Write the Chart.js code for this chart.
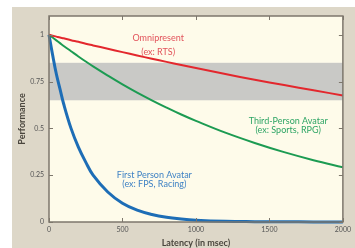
<!DOCTYPE html>
<html><head><meta charset="utf-8">
<script src="https://cdn.jsdelivr.net/npm/chart.js@4/dist/chart.umd.min.js"></script>
<style>html,body{margin:0;padding:0;background:#fff;}#wrap{width:355px;height:248px;}</style>
</head><body><div id="wrap"><canvas id="c" width="355" height="248"></canvas></div>
<script>
const latency = [0,25,50,75,100,150,200,250,300,400,500,600,700,800,900,1000,1200,1400,1600,1800,2000];
const omnipresent = [1,0.995,0.99,0.985,0.981,0.971,0.962,0.952,0.943,0.925,0.907,0.889,0.872,0.855,0.838,0.822,0.79,0.76,0.731,0.703,0.676];
const thirdPerson = [1,0.985,0.97,0.955,0.94,0.912,0.884,0.857,0.831,0.782,0.735,0.691,0.65,0.611,0.574,0.54,0.477,0.422,0.373,0.33,0.292];
const firstPerson = [1,0.89,0.79,0.71,0.63,0.5,0.4,0.32,0.25,0.16,0.1,0.063,0.04,0.025,0.016,0.01,0.004,0.002,0.001,0.0005,0];
const xTicks = [0,500,1000,1500,2000];
const xTickLabels = ['0','500','1000','1500','2000'];
const yTicks = [0,0.25,0.5,0.75,1];
const yTickLabels = ['0','0.25','0.5','0.75','1'];
const band = [0.65,0.85];
const seriesLabels = [
  {lines:['Omnipresent','(ex: RTS)'], x:743, y:[0.982,0.908], color:'#e2535b'},
  {lines:['Third-Person Avatar','(ex: Sports, RPG)'], x:1628, y:[0.541,0.49], color:'#2ea565'},
  {lines:['First Person Avatar','(ex: FPS, Racing)'], x:717, y:[0.251,0.201], color:'#3f82c4'}
];
const pts = arr => latency.map((x,i)=>({x:x,y:arr[i]}));

const decor = {
  id:'decor',
  beforeDraw(chart){
    const {ctx, chartArea:a} = chart;
    ctx.save();
    ctx.fillStyle='#fff'; ctx.fillRect(0,0,355,248);
    ctx.fillStyle='#ddd7c8'; ctx.fillRect(12,7,343,241);
    ctx.fillStyle='#fefbea'; ctx.fillRect(a.left,a.top,a.right-a.left,a.bottom-a.top);
    const y=chart.scales.y;
    const y1=y.getPixelForValue(band[1]), y0=y.getPixelForValue(band[0]);
    ctx.fillStyle='#c9c9c6'; ctx.fillRect(a.left,y1,a.right-a.left,y0-y1);
    ctx.restore();
  },
  afterDatasetsDraw(chart){
    const {ctx, chartArea:a} = chart;
    const xs=chart.scales.x, ys=chart.scales.y;
    ctx.save();
    ctx.font='9px Lato';
    ctx.textAlign='center'; ctx.textBaseline='middle';
    seriesLabels.forEach(l=>{
      ctx.fillStyle=l.color;
      l.lines.forEach((t,i)=>ctx.fillText(t, xs.getPixelForValue(l.x), ys.getPixelForValue(l.y[i])));
    });
    ctx.strokeStyle='#7d776c'; ctx.lineWidth=1.5;
    ctx.strokeRect(a.left,a.top,a.right-a.left,a.bottom-a.top);
    ctx.lineWidth=1;
    xTicks.forEach(v=>{const p=Math.round(xs.getPixelForValue(v))+0.5;
      ctx.beginPath();ctx.moveTo(p,a.bottom);ctx.lineTo(p,a.bottom-4);ctx.moveTo(p,a.top);ctx.lineTo(p,a.top+4);ctx.stroke();});
    yTicks.forEach(v=>{const p=Math.round(ys.getPixelForValue(v))+0.5;
      ctx.beginPath();ctx.moveTo(a.left,p);ctx.lineTo(a.left+4,p);ctx.moveTo(a.right,p);ctx.lineTo(a.right-4,p);ctx.stroke();});
    ctx.restore();
  }
};

new Chart(document.getElementById('c'), {
  type:'line',
  data:{datasets:[
    {data:pts(omnipresent), borderColor:'#e3272d', borderWidth:2, pointRadius:0, tension:0.4, fill:false},
    {data:pts(thirdPerson), borderColor:'#1c9b52', borderWidth:2, pointRadius:0, tension:0.4, fill:false},
    {data:pts(firstPerson), borderColor:'#1d6db6', borderWidth:3, pointRadius:0, tension:0.4, fill:false, clip:3}
  ]},
  options:{
    responsive:false, animation:false, devicePixelRatio:1,
    layout:{padding:{left:0,top:16,right:2,bottom:0}},
    plugins:{legend:{display:false}, tooltip:{enabled:false}},
    scales:{
      x:{type:'linear', min:0, max:2000,
        afterBuildTicks:s=>{s.ticks=xTicks.map(v=>({value:v}));},
        afterFit:s=>{s.height=26;},
        grid:{display:false, drawTicks:false},
        border:{display:false},
        ticks:{font:{size:7,family:'Lato'}, color:'#555', padding:4, maxRotation:0, autoSkip:false, callback:(v)=>xTickLabels[xTicks.indexOf(v)]},
        title:{display:true, text:'Latency (in msec)', font:{size:9,family:'Lato',weight:'bold'}, color:'#4a463e', padding:{top:0,bottom:0}}
      },
      y:{type:'linear', min:0, max:1.1,
        afterBuildTicks:s=>{s.ticks=yTicks.map(v=>({value:v}));},
        afterFit:s=>{s.width=49;},
        grid:{display:false, drawTicks:false},
        border:{display:false},
        ticks:{font:{size:7,family:'Lato'}, color:'#555', padding:5, callback:(v)=>yTickLabels[yTicks.indexOf(v)]},
        title:{display:true, text:'Performance', font:{size:9,family:'Lato',weight:'bold'}, color:'#4a463e', padding:{top:17,bottom:0}}
      }
    }
  },
  plugins:[decor]
});
</script></body></html>
